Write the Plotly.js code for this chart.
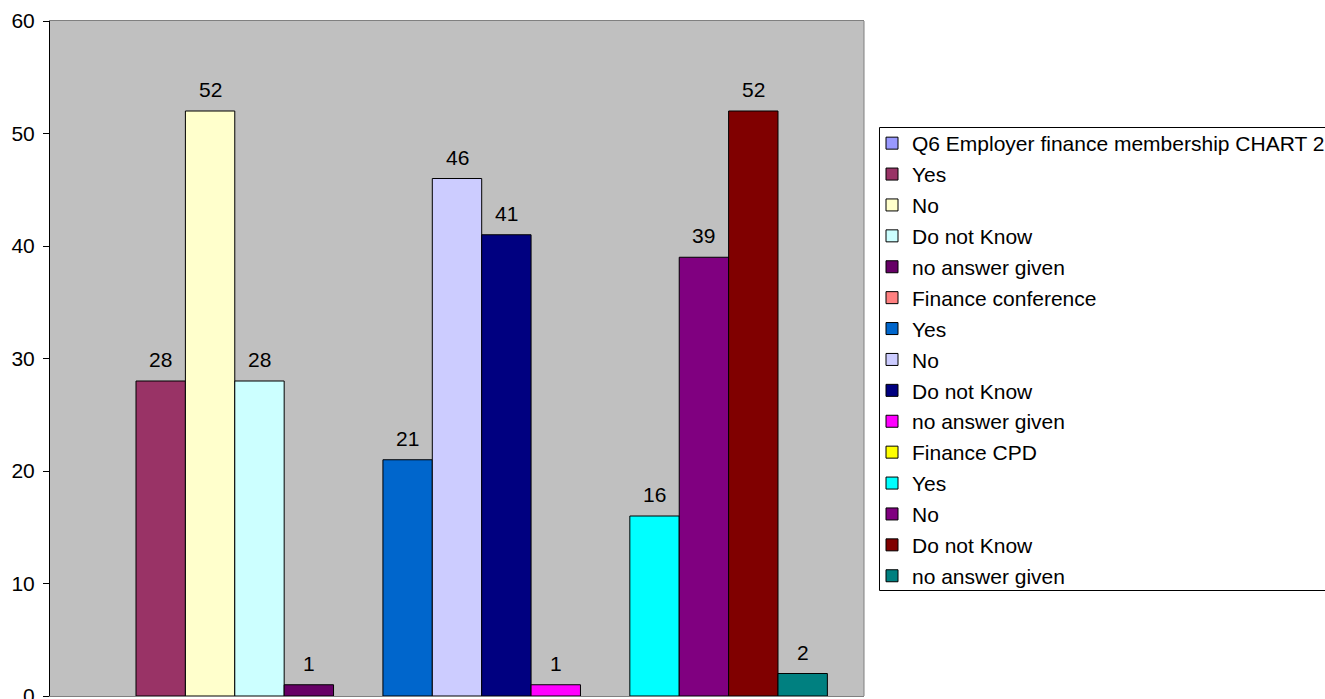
<!DOCTYPE html>
<html>
<head>
<meta charset="utf-8">
<script src="https://cdn.plot.ly/plotly-3.0.1.min.js"></script>
<style>html,body{margin:0;padding:0;background:#fff;}#chart{width:1325px;height:699px;}</style>
</head>
<body>
<div id="chart"></div>
<script>
var category = ["Q6"];
var seriesNames = ["Q6 Employer finance membership CHART 2", "Yes", "No", "Do not Know", "no answer given",
  "Finance conference", "Yes", "No", "Do not Know", "no answer given",
  "Finance CPD", "Yes", "No", "Do not Know", "no answer given"];
var seriesValues = [null, 28, 52, 28, 1, null, 21, 46, 41, 1, null, 16, 39, 52, 2];
var seriesColors = ["#9999FF", "#993366", "#FFFFCC", "#CCFFFF", "#660066",
  "#FF8080", "#0066CC", "#CCCCFF", "#000080", "#FF00FF",
  "#FFFF00", "#00FFFF", "#800080", "#800000", "#008080"];
var yTicks = [0, 10, 20, 30, 40, 50, 60];

var FONT = "Liberation Sans, Arial, sans-serif";
var BARGAP = 0.09;
var N = seriesNames.length;

var traces = seriesNames.map(function (name, i) {
  return {
    type: "bar",
    name: name,
    x: category,
    y: [seriesValues[i]],
    legendgroup: "g" + i,
    marker: {color: seriesColors[i], line: {color: "#000000", width: 1}},
    hoverinfo: "name+y"
  };
});

// data labels, placed over each bar on the category axis scale
var annotations = [];
seriesValues.forEach(function (v, i) {
  if (v === null) return;
  annotations.push({
    xref: "x", yref: "y",
    x: -0.5 + BARGAP / 2 + (i + 0.5) * (1 - BARGAP) / N,
    y: v,
    text: String(v),
    showarrow: false,
    xanchor: "center", yanchor: "bottom",
    yshift: 8,
    font: {family: FONT, size: 21, color: "#000"}
  });
});

var layout = {
  width: 1325, height: 699,
  margin: {l: 49.5, r: 461, t: 21, b: 3, pad: 0, autoexpand: false},
  paper_bgcolor: "#ffffff",
  plot_bgcolor: "#C0C0C0",
  barmode: "group",
  bargap: BARGAP,
  bargroupgap: 0,
  showlegend: true,
  font: {family: FONT, size: 21, color: "#000"},
  xaxis: {showticklabels: false, ticks: "", showgrid: false, zeroline: false,
    showline: true, linecolor: "#808080", linewidth: 1, mirror: true, fixedrange: true},
  yaxis: {range: [0, 60], tickvals: yTicks, ticktext: yTicks.map(String), ticks: "outside", ticklen: 6,
    tickcolor: "#000", showgrid: false, zeroline: false, showline: true, linecolor: "#000", linewidth: 1,
    tickfont: {family: FONT, size: 21, color: "#000"}, ticklabelstandoff: 4,
    ticklabeloverflow: "allow", fixedrange: true},
  legend: {xref: "container", yref: "container", x: 872 / 1325, y: 1 - 123 / 699,
    xanchor: "left", yanchor: "top", bgcolor: "rgba(0,0,0,0)", maxheight: 650,
    borderwidth: 0, font: {family: FONT, size: 21, color: "#000"}, traceorder: "grouped",
    tracegroupgap: 0.6, itemclick: false},
  annotations: annotations,
  shapes: [
    {type: "line", xref: "paper", yref: "paper", x0: 1, x1: 1, y0: 0, y1: 1,
      line: {color: "#808080", width: 1}},
    {type: "rect", xref: "paper", yref: "paper", layer: "below",
      x0: (879.5 - 49.5) / 814.5, x1: (1340 - 49.5) / 814.5,
      y0: (696 - 590.5) / 675, y1: (696 - 127.5) / 675,
      fillcolor: "#ffffff", line: {color: "#000000", width: 1}}
  ]
};

Plotly.newPlot("chart", traces, layout, {displayModeBar: false, staticPlot: true});
</script>
</body>
</html>
